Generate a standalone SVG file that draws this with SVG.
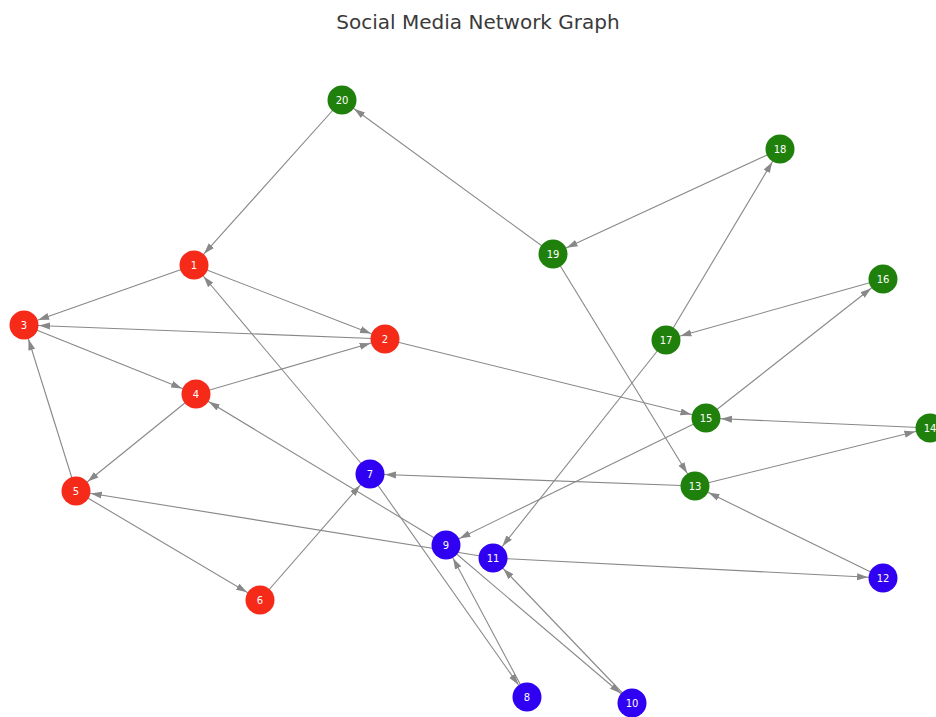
<svg xmlns="http://www.w3.org/2000/svg" width="936" height="717" viewBox="0 0 936 717">
  <style>
    .title { font-family: "DejaVu Sans", sans-serif; font-size: 20px; fill: #3a3a3a; }
    .edge { stroke: #888888; stroke-width: 1.1; fill: none; marker-end: url(#arrow); }
    .node circle { stroke: none; }
    .red circle { fill: #f62a18; }
    .green circle { fill: #1f800c; }
    .blue circle { fill: #3000f2; }
    .node text { font-family: "DejaVu Sans", sans-serif; font-size: 10px; fill: #ffffff; text-anchor: middle; dominant-baseline: central; }
  </style>
  <defs>
    <marker id="arrow" markerUnits="userSpaceOnUse" markerWidth="12" markerHeight="8" viewBox="0 0 12 8" refX="26" refY="4" orient="auto">
      <path d="M0,0.5 L11,4 L0,7.5 z" fill="#888888"/>
    </marker>
  </defs>
  <rect width="936" height="717" fill="#ffffff"/>
  <text class="title" x="478" y="29" text-anchor="middle">Social Media Network Graph</text>

  <g id="edges">
    <line class="edge" x1="342" y1="100" x2="194" y2="265"/>
    <line class="edge" x1="194" y1="265" x2="24" y2="325"/>
    <line class="edge" x1="194" y1="265" x2="385" y2="339"/>
    <line class="edge" x1="385" y1="339" x2="24" y2="325"/>
    <line class="edge" x1="24" y1="325" x2="196" y2="394"/>
    <line class="edge" x1="196" y1="394" x2="385" y2="339"/>
    <line class="edge" x1="196" y1="394" x2="76" y2="491"/>
    <line class="edge" x1="76" y1="491" x2="24" y2="325"/>
    <line class="edge" x1="76" y1="491" x2="260" y2="600"/>
    <line class="edge" x1="260" y1="600" x2="370" y2="474"/>
    <line class="edge" x1="370" y1="474" x2="194" y2="265"/>
    <line class="edge" x1="385" y1="339" x2="706" y2="418"/>
    <line class="edge" x1="553" y1="254" x2="342" y2="100"/>
    <line class="edge" x1="780" y1="149" x2="553" y2="254"/>
    <line class="edge" x1="553" y1="254" x2="695" y2="486"/>
    <line class="edge" x1="666" y1="340" x2="780" y2="149"/>
    <line class="edge" x1="666" y1="340" x2="493" y2="558"/>
    <line class="edge" x1="883" y1="279" x2="666" y2="340"/>
    <line class="edge" x1="706" y1="418" x2="883" y2="279"/>
    <line class="edge" x1="706" y1="418" x2="446" y2="545"/>
    <line class="edge" x1="930" y1="428" x2="706" y2="418"/>
    <line class="edge" x1="695" y1="486" x2="930" y2="428"/>
    <line class="edge" x1="695" y1="486" x2="370" y2="474"/>
    <line class="edge" x1="883" y1="578" x2="695" y2="486"/>
    <line class="edge" x1="493" y1="558" x2="76" y2="491"/>
    <line class="edge" x1="446" y1="545" x2="196" y2="394"/>
    <line class="edge" x1="493" y1="558" x2="883" y2="578"/>
    <line class="edge" x1="370" y1="474" x2="527" y2="697"/>
    <line class="edge" x1="527" y1="697" x2="446" y2="545"/>
    <line class="edge" x1="446" y1="545" x2="632" y2="703"/>
    <line class="edge" x1="632" y1="703" x2="493" y2="558"/>
  </g>

  <g id="node-1" class="node red"><circle cx="194" cy="265" r="14.5"/><text x="194" y="265">1</text></g>
  <g id="node-2" class="node red"><circle cx="385" cy="339" r="14.5"/><text x="385" y="339">2</text></g>
  <g id="node-3" class="node red"><circle cx="24" cy="325" r="14.5"/><text x="24" y="325">3</text></g>
  <g id="node-4" class="node red"><circle cx="196" cy="394" r="14.5"/><text x="196" y="394">4</text></g>
  <g id="node-5" class="node red"><circle cx="76" cy="491" r="14.5"/><text x="76" y="491">5</text></g>
  <g id="node-6" class="node red"><circle cx="260" cy="600" r="14.5"/><text x="260" y="600">6</text></g>
  <g id="node-7" class="node blue"><circle cx="370" cy="474" r="14.5"/><text x="370" y="474">7</text></g>
  <g id="node-8" class="node blue"><circle cx="527" cy="697" r="14.5"/><text x="527" y="697">8</text></g>
  <g id="node-9" class="node blue"><circle cx="446" cy="545" r="14.5"/><text x="446" y="545">9</text></g>
  <g id="node-10" class="node blue"><circle cx="632" cy="703" r="14.5"/><text x="632" y="703">10</text></g>
  <g id="node-11" class="node blue"><circle cx="493" cy="558" r="14.5"/><text x="493" y="558">11</text></g>
  <g id="node-12" class="node blue"><circle cx="883" cy="578" r="14.5"/><text x="883" y="578">12</text></g>
  <g id="node-13" class="node green"><circle cx="695" cy="486" r="14.5"/><text x="695" y="486">13</text></g>
  <g id="node-14" class="node green"><circle cx="930" cy="428" r="14.5"/><text x="930" y="428">14</text></g>
  <g id="node-15" class="node green"><circle cx="706" cy="418" r="14.5"/><text x="706" y="418">15</text></g>
  <g id="node-16" class="node green"><circle cx="883" cy="279" r="14.5"/><text x="883" y="279">16</text></g>
  <g id="node-17" class="node green"><circle cx="666" cy="340" r="14.5"/><text x="666" y="340">17</text></g>
  <g id="node-18" class="node green"><circle cx="780" cy="149" r="14.5"/><text x="780" y="149">18</text></g>
  <g id="node-19" class="node green"><circle cx="553" cy="254" r="14.5"/><text x="553" y="254">19</text></g>
  <g id="node-20" class="node green"><circle cx="342" cy="100" r="14.5"/><text x="342" y="100">20</text></g>
</svg>
